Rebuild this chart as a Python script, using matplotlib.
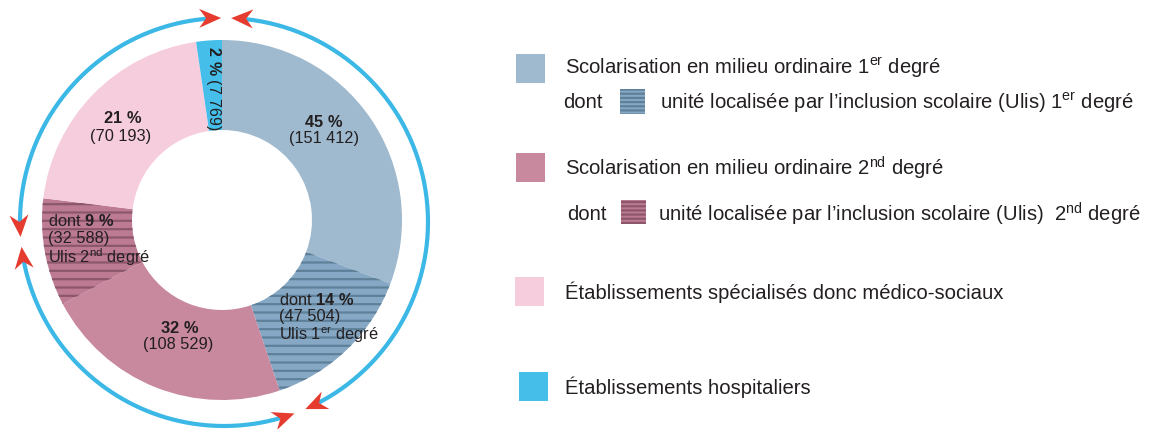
import numpy as np
import matplotlib
matplotlib.use("Agg")
import matplotlib.pyplot as plt
from matplotlib.patches import Wedge, Rectangle, Polygon
from matplotlib import font_manager

# data
segment_names = ["1er plain", "1er Ulis", "2nd plain", "2nd Ulis", "specialises", "hospitaliers"]
totals_1er = 151412
ulis_1er = 47504
totals_2nd = 108529
ulis_2nd = 32588
specialises = 70193
hospitaliers = 7769
percents = [45, 14, 32, 9, 21, 2]   # 1er, Ulis 1er, 2nd, Ulis 2nd, spécialisés, hospitaliers
legend_labels = [
    r"Scolarisation en milieu ordinaire 1$^{\mathrm{er}}$ degré",
    r"unité localisée par l’inclusion scolaire (Ulis) 1$^{\mathrm{er}}$ degré",
    r"Scolarisation en milieu ordinaire 2$^{\mathrm{nd}}$ degré",
    r"unité localisée par l’inclusion scolaire (Ulis)  2$^{\mathrm{nd}}$ degré",
    "Établissements spécialisés donc médico-sociaux",
    "Établissements hospitaliers",
]

segments = [totals_1er - ulis_1er, ulis_1er, totals_2nd - ulis_2nd, ulis_2nd, specialises, hospitaliers]

names = {f.name for f in font_manager.fontManager.ttflist}
main_font = "Liberation Sans Narrow" if "Liberation Sans Narrow" in names else "Liberation Sans"
plt.rcParams["font.family"] = [main_font, "DejaVu Sans"]
plt.rcParams["mathtext.fontset"] = "custom"
plt.rcParams["mathtext.rm"] = main_font
plt.rcParams["mathtext.bf"] = main_font + ":bold"
plt.rcParams["hatch.linewidth"] = 1.6

TXT = "#231f20"
c_1er, c_1er_h, c_1er_s = "#9fbace", "#86a8c4", "#5f8099"
c_2nd, c_2nd_h, c_2nd_s = "#c8889d", "#bc7b93", "#8c566b"
c_spec = "#f6cddc"
c_hosp = "#45bee9"
c_ring = "#3cb8e6"
c_arrow = "#e63b2f"

fills = [c_1er, c_1er_h, c_2nd, c_2nd_h, c_spec, c_hosp]
stripes = [None, c_1er_s, None, c_2nd_s, None, None]


def fmt(v):
    return "{:,}".format(v).replace(",", " ")


fig = plt.figure(figsize=(11.52, 4.29), dpi=100)
ax = fig.add_axes([0, 0, 1, 1])
ax.set_xlim(0, 1152)
ax.set_ylim(429, 0)
ax.axis("off")

# donut (angles clockwise from 12 o'clock)
cx, cy, R, r = 222, 220, 180, 90
frac = np.array(segments) / sum(segments) * 360
start = 0
for val, fc, sc in zip(frac, fills, stripes):
    end = start + val
    if sc is None:
        w = Wedge((cx, cy), R, start - 90, end - 90, width=R - r, facecolor=fc, edgecolor="none", lw=0)
    else:
        w = Wedge((cx, cy), R, start - 90, end - 90, width=R - r, facecolor=fc, edgecolor=sc, lw=0, hatch="--")
    ax.add_patch(w)
    start = end

# outer ring with arrows
rcx, rcy, RR = 224, 222, 204
arcs = [(2, 156.5), (159.8, 263), (265.8, 359.2)]
L, HW, NOTCH = 22, 9.5, 7


def pt(th):
    t = np.radians(th)
    return np.array([rcx + RR * np.sin(t), rcy - RR * np.cos(t)])


def head(th, sign):
    t = np.radians(th)
    d = sign * np.array([np.cos(t), np.sin(t)])
    n = np.array([-d[1], d[0]])
    tip = pt(th)
    pts = [tip, tip - L * d + HW * n, tip - (L - NOTCH) * d, tip - L * d - HW * n]
    ax.add_patch(Polygon(pts, closed=True, facecolor=c_arrow, edgecolor="none", zorder=4))


for a0, a1 in arcs:
    off = np.degrees((L - NOTCH) / RR)
    th = np.linspace(a0 + off, a1 - off, 200)
    p = np.array([pt(t) for t in th])
    ax.plot(p[:, 0], p[:, 1], color=c_ring, lw=3, solid_capstyle="butt", zorder=3)
    head(a0, -1)
    head(a1, 1)

# donut labels
fs = 11.8
ax.text(324, 122, r"$\mathbf{%d\ \%%}$" % percents[0], ha="center", va="center", fontsize=fs, color=TXT)
ax.text(324, 138, "(%s)" % fmt(totals_1er), ha="center", va="center", fontsize=fs, color=TXT)
ax.text(123, 118, r"$\mathbf{%d\ \%%}$" % percents[4], ha="center", va="center", fontsize=fs, color=TXT)
ax.text(121, 136, "(%s)" % fmt(specialises), ha="center", va="center", fontsize=fs, color=TXT)
ax.text(180, 328, r"$\mathbf{%d\ \%%}$" % percents[2], ha="center", va="center", fontsize=fs, color=TXT)
ax.text(178, 345, "(%s)" % fmt(totals_2nd), ha="center", va="center", fontsize=fs, color=TXT)

ax.text(279, 300, r"dont $\mathbf{%d\ \%%}$" % percents[1], ha="left", va="center", fontsize=fs, color=TXT)
ax.text(279, 317, "(%s)" % fmt(ulis_1er), ha="left", va="center", fontsize=fs, color=TXT)
ax.text(279, 335, r"Ulis 1$^{\mathrm{er}}$ degré", ha="left", va="center", fontsize=fs, color=TXT)

ax.text(48, 221, r"dont $\mathbf{%d\ \%%}$" % percents[3], ha="left", va="center", fontsize=fs, color=TXT)
ax.text(48, 238, "(%s)" % fmt(ulis_2nd), ha="left", va="center", fontsize=fs, color=TXT)
ax.text(48, 257, r"Ulis 2$^{\mathrm{nd}}$ degré", ha="left", va="center", fontsize=fs, color=TXT)

ax.text(213, 88, r"$\mathbf{%d\ \%%}$ (%s)" % (percents[5], fmt(hospitaliers)), ha="center", va="center",
        rotation=-90, fontsize=11.5, color=TXT)

# legend
lfs = 14.6
ax.add_patch(Rectangle((516, 54), 29, 29, facecolor=c_1er, edgecolor="none"))
ax.text(565, 68, legend_labels[0], ha="left", va="center", fontsize=lfs, color=TXT)
ax.text(563, 103, "dont", ha="left", va="center", fontsize=lfs, color=TXT)
ax.add_patch(Rectangle((620, 89), 25, 25, facecolor=c_1er_h, edgecolor=c_1er_s, lw=0, hatch="----"))
ax.text(660, 103, legend_labels[1], ha="left", va="center", fontsize=lfs, color=TXT)

ax.add_patch(Rectangle((516, 153), 29, 29, facecolor=c_2nd, edgecolor="none"))
ax.text(565, 168, legend_labels[2], ha="left", va="center", fontsize=lfs, color=TXT)
ax.text(567, 214, "dont", ha="left", va="center", fontsize=lfs, color=TXT)
ax.add_patch(Rectangle((621, 200), 25, 24, facecolor=c_2nd_h, edgecolor=c_2nd_s, lw=0, hatch="----"))
ax.text(658, 214, legend_labels[3], ha="left", va="center", fontsize=lfs, color=TXT)

ax.add_patch(Rectangle((515, 277), 29, 29, facecolor=c_spec, edgecolor="none"))
ax.text(565, 292, legend_labels[4], ha="left", va="center", fontsize=lfs, color=TXT)

ax.add_patch(Rectangle((519, 372), 29, 29, facecolor=c_hosp, edgecolor="none"))
ax.text(565, 387, legend_labels[5], ha="left", va="center", fontsize=lfs, color=TXT)

fig.savefig("out.png", dpi=100)
